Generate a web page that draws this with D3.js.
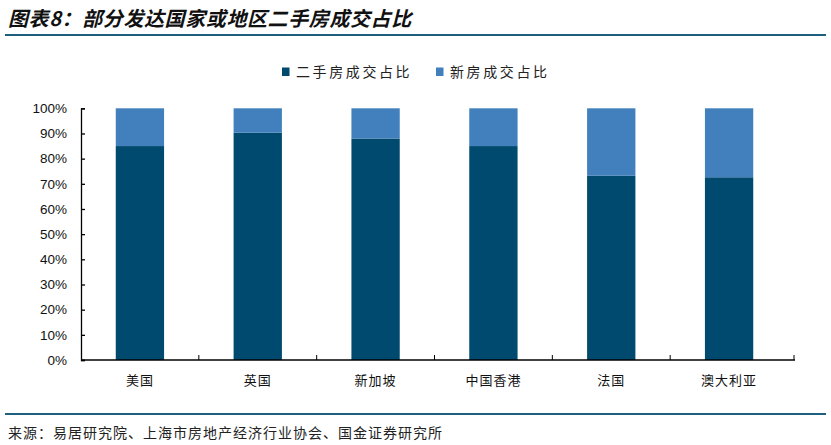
<!DOCTYPE html>
<html>
<head>
<meta charset="utf-8">
<script src="https://cdn.jsdelivr.net/npm/d3@7"></script>
<style>
  body { margin: 0; background: #fff; }
  svg { display: block; }
  text { font-family: "Noto Sans CJK SC", sans-serif; }
</style>
</head>
<body>
<svg id="chart" width="831" height="445"></svg>
<script>
var categories = ["美国", "英国", "新加坡", "中国香港", "法国", "澳大利亚"];
var secondHand = [85.0, 90.3, 88.0, 85.0, 73.2, 72.6];
var newHome = [15.0, 9.7, 12.0, 15.0, 26.8, 27.4];
var seriesNames = ["二手房成交占比", "新房成交占比"];
var seriesColors = ["#014a6f", "#4280bd"];
var yTicks = [0, 10, 20, 30, 40, 50, 60, 70, 80, 90, 100];

var svg = d3.select("#chart");

// title
svg.append("text")
  .attr("x", 8).attr("y", 26)
  .style("font-size", "20px")
  .style("font-weight", "bold")
  .style("font-style", "italic")
  .style("letter-spacing", "0.6px")
  .style("fill", "#111")
  .text("图表8：部分发达国家或地区二手房成交占比");

svg.append("line")
  .attr("x1", 5).attr("x2", 826).attr("y1", 35).attr("y2", 35)
  .attr("stroke", "#1d5f7c").attr("stroke-width", 2);

svg.append("line")
  .attr("x1", 5).attr("x2", 826).attr("y1", 414).attr("y2", 414)
  .attr("stroke", "#1d5f7c").attr("stroke-width", 2);

svg.append("text")
  .attr("x", 8).attr("y", 438)
  .style("font-size", "14px")
  .style("letter-spacing", "1px")
  .style("fill", "#222")
  .text("来源：易居研究院、上海市房地产经济行业协会、国金证券研究所");

// legend
var legendX = [282, 436];
seriesNames.forEach(function (name, i) {
  svg.append("rect")
    .attr("x", legendX[i]).attr("y", 67.5)
    .attr("width", 7.5).attr("height", 8.5)
    .attr("fill", seriesColors[i]);
  svg.append("text")
    .attr("x", legendX[i] + 14).attr("y", 77)
    .style("font-size", "14px")
    .style("letter-spacing", "2.6px")
    .style("fill", "#222")
    .text(name);
});

var x = d3.scaleBand().domain(categories).range([81, 788]).paddingInner(0.59).paddingOuter(0.295);
var y = d3.scaleLinear().domain([0, 100]).range([360, 108.3]);

var data = categories.map(function (c, i) {
  return { cat: c, a: secondHand[i], b: newHome[i] };
});
var stack = d3.stack().keys(["a", "b"]);
var layers = stack(data);

var g = svg.append("g");
g.selectAll("g.layer").data(layers).enter().append("g")
  .attr("fill", function (d, i) { return seriesColors[i]; })
  .selectAll("rect").data(function (d) { return d; }).enter().append("rect")
  .attr("x", function (d) { return x(d.data.cat); })
  .attr("width", x.bandwidth())
  .attr("y", function (d) { return y(d[1]); })
  .attr("height", function (d) { return y(d[0]) - y(d[1]); });

// y axis
var yAxis = d3.axisLeft(y).tickValues(yTicks)
  .tickFormat(function (d) { return d + "%"; })
  .tickSizeInner(-4).tickSizeOuter(-4).tickPadding(14);
var ya = svg.append("g").attr("transform", "translate(81,0)").call(yAxis);
ya.selectAll("text")
  .style("font-family", "'Liberation Sans', Arial, sans-serif")
  .style("font-size", "13.5px").style("fill", "#111");
ya.selectAll("line, path").attr("stroke", "#000").attr("stroke-width", 1.3);

// x axis with ticks between categories
var xEdge = d3.scaleLinear().domain([0, categories.length]).range([81, 788]);
var xa = svg.append("g").attr("transform", "translate(0,360)");
xa.append("line").attr("x1", 81).attr("x2", 795).attr("stroke", "#000").attr("stroke-width", 1.3);
xa.selectAll("line.tick").data(d3.range(1, categories.length + 1)).enter().append("line")
  .attr("x1", function (d) { return xEdge(d) + (d === categories.length ? 6 : 0); })
  .attr("x2", function (d) { return xEdge(d) + (d === categories.length ? 6 : 0); })
  .attr("y1", 0).attr("y2", -5)
  .attr("stroke", "#000").attr("stroke-width", 1);
xa.selectAll("text").data(categories).enter().append("text")
  .attr("x", function (d) { return x(d) + x.bandwidth() / 2; })
  .attr("y", 25)
  .attr("text-anchor", "middle")
  .style("font-size", "13px")
  .style("letter-spacing", "1px")
  .style("fill", "#111")
  .text(function (d) { return d; });
</script>
</body>
</html>
